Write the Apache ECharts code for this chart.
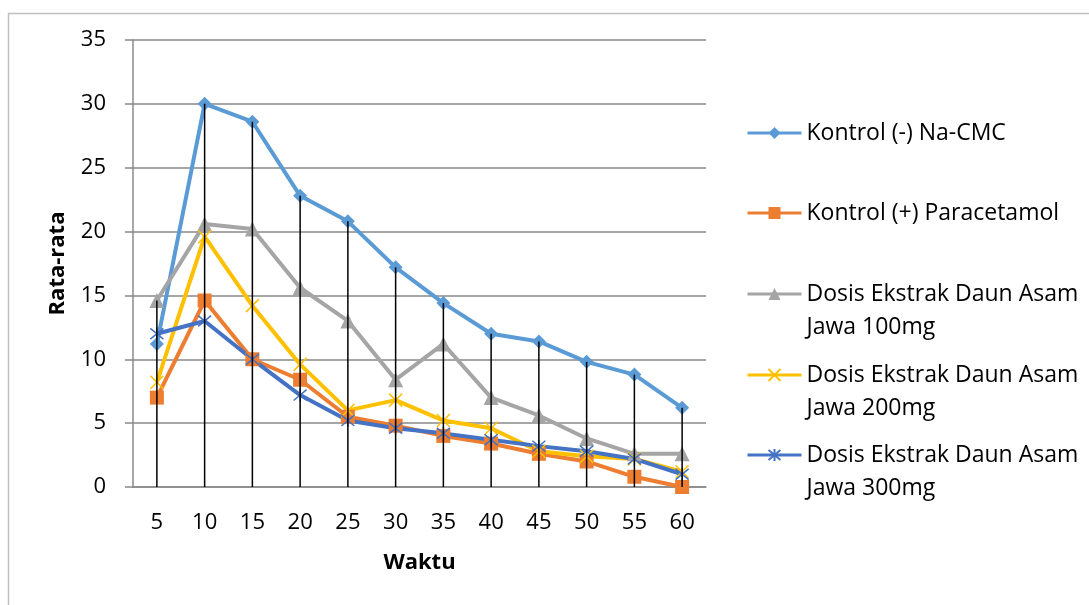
<!DOCTYPE html>
<html>
<head>
<meta charset="utf-8">
<script src="https://cdn.jsdelivr.net/npm/echarts@6/dist/echarts.min.js"></script>
<style>
html,body{margin:0;padding:0;background:#fff;}
#main{width:1089px;height:605px;}
</style>
</head>
<body>
<div id="main"></div>
<script>
const categories = ['5','10','15','20','25','30','35','40','45','50','55','60'];
const naCMC = [11.2, 30.0, 28.6, 22.8, 20.8, 17.2, 14.4, 12.0, 11.4, 9.8, 8.8, 6.2];
const paracetamol = [7.0, 14.6, 10.0, 8.4, 5.5, 4.8, 4.0, 3.4, 2.6, 2.0, 0.8, 0.0];
const dosis100 = [14.6, 20.6, 20.2, 15.6, 13.0, 8.4, 11.2, 7.0, 5.6, 3.8, 2.6, 2.6];
const dosis200 = [8.2, 19.6, 14.2, 9.6, 6.0, 6.8, 5.2, 4.6, 2.8, 2.4, 2.2, 1.2];
const dosis300 = [12.0, 13.0, 10.0, 7.2, 5.2, 4.6, 4.2, 3.7, 3.2, 2.8, 2.2, 1.0];
const yTicks = [0, 5, 10, 15, 20, 25, 30, 35];
const seriesNames = [
  'Kontrol (-) Na-CMC',
  'Kontrol (+) Paracetamol',
  'Dosis Ekstrak Daun Asam Jawa 100mg',
  'Dosis Ekstrak Daun Asam Jawa 200mg',
  'Dosis Ekstrak Daun Asam Jawa 300mg'
];

const allSeries = [naCMC, paracetamol, dosis100, dosis200, dosis300];
const dropTop = categories.map((c, i) => Math.max(...allSeries.map(s => s[i])));

const FONT = 'Open Sans';
const colors = ['#5B9BD5', '#ED7D31', '#A5A5A5', '#FFC000', '#4472C4'];
const symbols = [
  'diamond',
  'rect',
  'triangle',
  'path://M0 0L10 10M10 0L0 10',
  'path://M0 0L10 10M10 0L0 10M5 -1L5 11'
];
const symbolSizes = [14, 14, 15, 13, 13];

function lineSeries(i, data) {
  const isPath = symbols[i].startsWith('path://');
  return {
    name: seriesNames[i],
    type: 'line',
    data: data,
    symbol: symbols[i],
    symbolSize: symbolSizes[i],
    showAllSymbol: true,
    lineStyle: { color: colors[i], width: 4 },
    itemStyle: isPath
      ? { color: colors[i], borderColor: colors[i], borderWidth: 1.5 }
      : { color: colors[i], borderWidth: 0 },
    z: 3
  };
}

const LH = 33;
function legendItem(i, top, twoLine) {
  return {
    show: true,
    left: 746,
    top: top,
    padding: 0,
    orient: 'vertical',
    itemWidth: 54,
    itemHeight: 15,
    data: [seriesNames[i]],
    selectedMode: false,
    lineStyle: { width: 3 },
    formatter: function (name) {
      return twoLine ? '\n' + name.replace(' Jawa', '\nJawa') : name;
    },
    textStyle: {
      fontFamily: FONT,
      fontSize: 23,
      color: '#000',
      lineHeight: LH
    }
  };
}

const chart = echarts.init(document.getElementById('main'), null, { renderer: 'canvas' });
chart.setOption({
  animation: false,
  backgroundColor: '#fff',
  graphic: [{
    type: 'rect',
    left: 6, top: 11,
    shape: { width: 1200, height: 700 },
    style: { fill: 'none', stroke: '#BFBFBF', lineWidth: 1.5 },
    silent: true
  }],
  grid: { left: 133, right: 383, top: 40, bottom: 118 },
  legend: [
    legendItem(0, 116.5, false),
    legendItem(1, 196.5, false),
    legendItem(2, 244.5, true),
    legendItem(3, 325.5, true),
    legendItem(4, 405.5, true)
  ],
  xAxis: {
    type: 'category',
    data: categories,
    boundaryGap: true,
    name: 'Waktu',
    nameLocation: 'middle',
    nameGap: 65,
    nameTextStyle: { fontFamily: FONT, fontSize: 22, fontWeight: 'bold', color: '#000' },
    axisLine: { show: true, lineStyle: { color: '#898989', width: 1.5 } },
    axisTick: { show: false },
    axisLabel: { fontFamily: FONT, fontSize: 22, color: '#000', margin: 25 },
    splitLine: { show: false }
  },
  yAxis: {
    type: 'value',
    min: yTicks[0],
    max: yTicks[yTicks.length - 1],
    interval: 5,
    name: 'Rata-rata',
    nameLocation: 'middle',
    nameGap: 64,
    nameTextStyle: { fontFamily: FONT, fontSize: 22, fontWeight: 'bold', color: '#000' },
    axisLine: { show: true, lineStyle: { color: '#898989', width: 1.5 } },
    axisTick: { show: true, inside: false, length: 8, lineStyle: { color: '#898989', width: 1.5 } },
    axisLabel: { fontFamily: FONT, fontSize: 22, color: '#000', margin: 27 },
    splitLine: { show: true, lineStyle: { color: '#898989', width: 1.5 } }
  },
  series: [
    lineSeries(0, naCMC),
    lineSeries(1, paracetamol),
    lineSeries(2, dosis100),
    lineSeries(3, dosis200),
    lineSeries(4, dosis300),
    {
      name: 'drop',
      type: 'bar',
      data: dropTop,
      barWidth: 1.5,
      itemStyle: { color: '#000' },
      silent: true,
      z: 4
    }
  ]
});
</script>
</body>
</html>
